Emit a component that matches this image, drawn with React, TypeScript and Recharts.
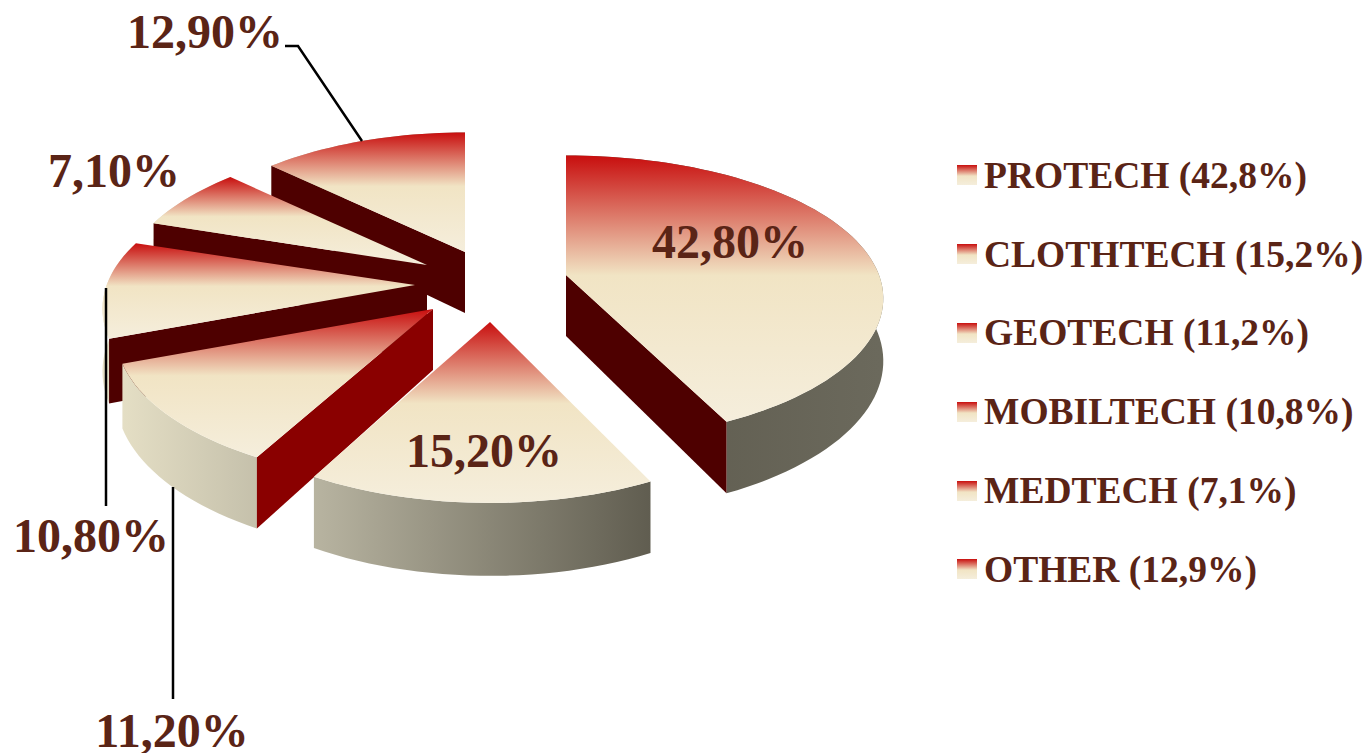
import React from 'react';
import { PieChart, Pie, Legend } from 'recharts';

// Values, in legend order
const CATEGORIES = ['PROTECH', 'CLOTHTECH', 'GEOTECH', 'MOBILTECH', 'MEDTECH', 'OTHER'];
const SHARES = [42.8, 15.2, 11.2, 10.8, 7.1, 12.9];

const comma = (value: number, digits: number) => value.toFixed(digits).replace('.', ',');

// Pie paints in data order, so go back to front (OTHER first) and sweep counter-clockwise from 12 o'clock
const pieData = CATEGORIES.map((name, i) => ({ name, value: SHARES[i] })).reverse();

const TEXT_COLOR = '#5a2416';
const SERIF = '"Liberation Serif", "Times New Roman", serif';

// Fake 3D: perspective squash of the pie plane
const TILT = 142 / 313;
const PERSPECTIVE = 0.164;
const THICKNESS = 61;

// Explosion of each slice on screen: dx, dy, x scale, y scale
const EXPLODE: Record<string, number[]> = {
  OTHER: [-5, -33, 0.95, 0.98],
  MEDTECH: [-43, -20, 0.965, 1],
  MOBILTECH: [-55, 0, 0.985, 1],
  GEOTECH: [-37, 24, 1, 1.02],
  CLOTHTECH: [20, 37, 1, 1.065],
  PROTECH: [96, -10, 1, 0.98],
};

const LABELS: Record<string, { x: number; y: number; line?: string }> = {
  PROTECH: { x: 730, y: 258 },
  CLOTHTECH: { x: 484, y: 467 },
  GEOTECH: { x: 172, y: 747, line: '173,487 173,699' },
  MOBILTECH: { x: 91, y: 552, line: '106,288 106,506' },
  MEDTECH: { x: 114, y: 187 },
  OTHER: { x: 205, y: 48, line: '285,46 298,46 362,141' },
};

function Slice3D(props: any) {
  const { cx, cy, outerRadius, startAngle, endAngle, name } = props;
  const [dx, dy, sx, sy] = EXPLODE[name];
  const project = (deg: number) => {
    const a = (deg * Math.PI) / 180;
    const v = -Math.sin(a);
    const s = 1 / (1 - PERSPECTIVE * v);
    return {
      x: cx + dx + outerRadius * Math.cos(a) * s * sx,
      y: cy + dy + outerRadius * TILT * v * s * sy,
      d: THICKNESS * s,
    };
  };
  const apex = { x: cx + dx, y: cy + dy, d: THICKNESS };
  const arc: { x: number; y: number; d: number }[] = [];
  const steps = Math.ceil((endAngle - startAngle) / 2);
  for (let i = 0; i <= steps; i++) arc.push(project(startAngle + ((endAngle - startAngle) * i) / steps));
  const pts = (list: { x: number; y: number }[]) => list.map((p) => `${p.x},${p.y}`).join(' ');
  const down = (p: { x: number; y: number; d: number }) => ({ x: p.x, y: p.y + p.d, d: p.d });

  const topId = `top-${name}`;
  const rimId = `rim-${name}`;
  const cutColor = name === 'GEOTECH' ? '#8a0000' : '#4e0000';
  const first = arc[0];
  const last = arc[arc.length - 1];
  const sinDeg = (deg: number) => Math.sin((deg * Math.PI) / 180);
  const showStart = sinDeg(startAngle - 90) < 0.01;
  const showEnd = sinDeg(endAngle + 90) < 0.01;

  return (
    <g>
      <defs>
        <linearGradient id={topId} x1="0" y1="0" x2="0" y2="1">
          <stop offset="0" stopColor="#c80e0e" />
          <stop offset="0.45" stopColor="#f1e4c4" />
          <stop offset="1" stopColor="#f5eedc" />
        </linearGradient>
        <linearGradient id={rimId} gradientUnits="userSpaceOnUse" x1="115" y1="0" x2="880" y2="0">
          <stop offset="0" stopColor="#e6e0c6" />
          <stop offset="0.27" stopColor="#b6b29f" />
          <stop offset="0.7" stopColor="#605d50" />
          <stop offset="1" stopColor="#6b695c" />
        </linearGradient>
      </defs>
      <polygon points={pts([...arc, ...arc.map(down).reverse()])} fill={`url(#${rimId})`} />
      {showStart && <polygon points={pts([apex, first, down(first), down(apex)])} fill={cutColor} />}
      {showEnd && <polygon points={pts([apex, last, down(last), down(apex)])} fill={cutColor} />}
      <polygon points={pts([apex, ...arc])} fill={`url(#${topId})`} />
    </g>
  );
}

function SliceLabel(props: any) {
  const { name, value } = props;
  const layout = LABELS[name];
  return (
    <g>
      {layout.line && <polyline points={layout.line} fill="none" stroke="#000" strokeWidth={2.5} />}
      <text
        x={layout.x}
        y={layout.y}
        textAnchor="middle"
        fill={TEXT_COLOR}
        fontFamily={SERIF}
        fontWeight="bold"
        fontSize={48}
      >
        {comma(value, 2)}%
      </text>
    </g>
  );
}

function LegendList() {
  return (
    <div>
      {CATEGORIES.map((name, i) => (
        <div key={name} style={{ height: 78.8, display: 'flex', alignItems: 'center', whiteSpace: 'nowrap' }}>
          <span
            style={{
              display: 'inline-block',
              width: 20,
              height: 20,
              marginRight: 7,
              background: 'linear-gradient(#c80e0e 0%, #f1e4c4 55%, #f5eedc 100%)',
            }}
          />
          <span style={{ fontFamily: SERIF, fontWeight: 'bold', fontSize: 37.5, color: TEXT_COLOR }}>
            {name} ({comma(SHARES[i], 1)}%)
          </span>
        </div>
      ))}
    </div>
  );
}

export default function App() {
  return (
    <div style={{ position: 'absolute', left: 0, top: 0, width: 1366, height: 753, background: '#fff' }}>
      <PieChart width={1366} height={753} margin={{ top: 0, right: 0, bottom: 0, left: 0 }}>
        <Pie
          data={pieData}
          dataKey="value"
          nameKey="name"
          cx={470}
          cy={285}
          outerRadius={313}
          startAngle={90}
          endAngle={450}
          stroke="none"
          isAnimationActive={false}
          shape={Slice3D}
          activeShape={Slice3D}
          inactiveShape={Slice3D}
          label={SliceLabel}
          labelLine={false}
        />
        <Legend
          content={<LegendList />}
          layout="vertical"
          wrapperStyle={{ left: 957, top: 136, width: 409, bottom: 'auto', right: 'auto' }}
        />
      </PieChart>
    </div>
  );
}
